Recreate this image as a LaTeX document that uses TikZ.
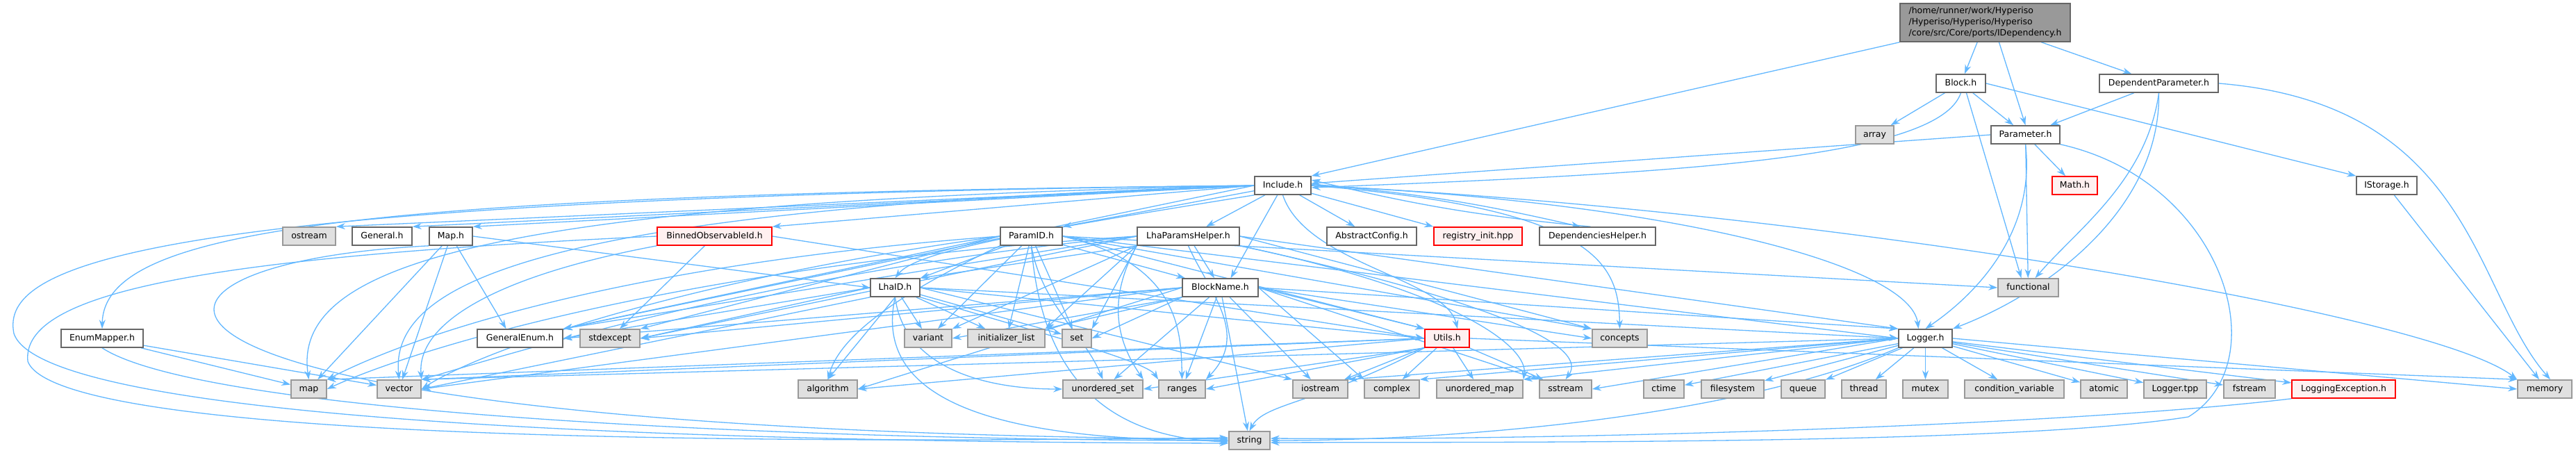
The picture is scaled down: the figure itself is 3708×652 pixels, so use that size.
\documentclass[tikz,border=0pt]{standalone}
\usepackage{fontspec}
\setmainfont{DejaVu Sans}
\usetikzlibrary{arrows.meta}
\definecolor{edgec}{HTML}{63B8FF}
\definecolor{gfill}{HTML}{E0E0E0}
\definecolor{gborder}{HTML}{999999}
\definecolor{wborder}{HTML}{666666}
\definecolor{rfill}{HTML}{FFF0F0}
\definecolor{topfill}{HTML}{999999}
\pgfdeclarelayer{bglayer}
\pgfdeclarelayer{edgelayer}
\pgfsetlayers{bglayer,edgelayer,main}
\begin{document}
\begin{tikzpicture}[x=1pt,y=-1pt,
  font=\fontsize{12.5}{15}\selectfont,
  nb/.style={line width=1.6pt, minimum height=26pt, inner sep=0pt, text height=9.2pt, text depth=2.8pt, anchor=center},
  gbox/.style={nb, fill=gfill, draw=gborder},
  wbox/.style={nb, fill=white, draw=wborder},
  rbox/.style={nb, fill=rfill, draw=red},
  topbox/.style={line width=1.6pt, fill=topfill, draw=wborder, align=left, inner sep=4pt, minimum width=245pt, minimum height=55pt, font=\fontsize{12.5}{16}\selectfont},
  e/.style={draw=edgec, line width=1.3pt, -{Stealth[length=13pt,width=9pt]}}]
\useasboundingbox (0,0) rectangle (3708,652);
\begin{pgfonlayer}{bglayer}
\fill[white] (0,0) rectangle (3708,652);
\end{pgfonlayer}

% nodes
\node[topbox] (top) at (2857.5,32.5) {/home/runner/work/Hyperiso\\/Hyperiso/Hyperiso/Hyperiso\\/core/src/Core/ports/IDependency.h};
\node[wbox, minimum width=71pt] (block) at (2822.5,120) {Block.h};
\node[wbox, minimum width=171pt] (dep) at (3107.5,120) {DependentParameter.h};
\node[gbox, minimum width=55pt] (arr) at (2698.5,194) {array};
\node[wbox, minimum width=99pt] (param) at (2915.5,194) {Parameter.h};
\node[wbox, minimum width=81pt] (inc) at (1846.5,267) {Include.h};
\node[rbox, minimum width=65pt] (math) at (2986.5,267) {Math.h};
\node[wbox, minimum width=87pt] (istor) at (3435.5,267) {IStorage.h};
\node[gbox, minimum width=76pt] (ostr) at (445,340) {ostream};
\node[wbox, minimum width=86pt] (gen) at (550,340) {General.h};
\node[wbox, minimum width=62pt] (maph) at (649,340) {Map.h};
\node[rbox, minimum width=165pt] (binned) at (1028.5,340) {BinnedObservableId.h};
\node[wbox, minimum width=89pt] (pid) at (1484.5,340) {ParamID.h};
\node[wbox, minimum width=147pt] (lph) at (1710.5,340) {LhaParamsHelper.h};
\node[wbox, minimum width=129pt] (absc) at (1974.5,340) {AbstractConfig.h};
\node[rbox, minimum width=127pt] (reg) at (2127.5,340) {registry\_init.hpp};
\node[wbox, minimum width=167pt] (dh) at (2299.5,340) {DependenciesHelper.h};
\node[wbox, minimum width=71pt] (lhaid) at (1288.5,414) {LhaID.h};
\node[wbox, minimum width=109pt] (bname) at (1756.5,414) {BlockName.h};
\node[gbox, minimum width=87pt] (func) at (2919.5,414) {functional};
\node[wbox, minimum width=118pt] (enm) at (147,487) {EnumMapper.h};
\node[wbox, minimum width=123pt] (genum) at (748.5,487) {GeneralEnum.h};
\node[gbox, minimum width=86pt] (stdex) at (878,487) {stdexcept};
\node[gbox, minimum width=68pt] (variant) at (1336,487) {variant};
\node[gbox, minimum width=111pt] (initl) at (1448.5,487) {initializer\_list};
\node[gbox, minimum width=42pt] (set) at (1550,487) {set};
\node[rbox, minimum width=64pt] (utils) at (2083,487) {Utils.h};
\node[gbox, minimum width=79pt] (conc) at (2331.5,487) {concepts};
\node[wbox, minimum width=77pt] (logger) at (2771.5,487) {Logger.h};
\node[gbox, minimum width=51pt] (map) at (444.5,560) {map};
\node[gbox, minimum width=63pt] (vec) at (574.5,560) {vector};
\node[gbox, minimum width=85pt] (algo) at (1191.5,560) {algorithm};
\node[gbox, minimum width=115pt] (uset) at (1587.5,560) {unordered\_set};
\node[gbox, minimum width=67pt] (ranges) at (1701.5,560) {ranges};
\node[gbox, minimum width=79pt] (iostr) at (1900.5,560) {iostream};
\node[gbox, minimum width=79pt] (cplx) at (2003.5,560) {complex};
\node[gbox, minimum width=124pt] (umap) at (2130,560) {unordered\_map};
\node[gbox, minimum width=75pt] (sstr) at (2253.5,560) {sstream};
\node[gbox, minimum width=58pt] (ctime) at (2395,560) {ctime};
\node[gbox, minimum width=90pt] (fsys) at (2494,560) {filesystem};
\node[gbox, minimum width=63pt] (queue) at (2595.5,560) {queue};
\node[gbox, minimum width=64pt] (thread) at (2683,560) {thread};
\node[gbox, minimum width=65pt] (mutex) at (2771.5,560) {mutex};
\node[gbox, minimum width=143pt] (condv) at (2899.5,560) {condition\_variable};
\node[gbox, minimum width=67pt] (atomic) at (3028.5,560) {atomic};
\node[gbox, minimum width=90pt] (ltpp) at (3131,560) {Logger.tpp};
\node[gbox, minimum width=74pt] (fstr) at (3238,560) {fstream};
\node[rbox, minimum width=149pt] (lexc) at (3373.5,560) {LoggingException.h};
\node[gbox, minimum width=78pt] (mem) at (3663,560) {memory};
\node[gbox, minimum width=59pt] (str) at (1798.5,634) {string};

\begin{pgfonlayer}{edgelayer}
% top
\draw[e] (top.south west) -- (inc.north east);
\draw[e] (top) -- (block);
\draw[e] ([xshift=20pt]top.south) -- (param.north);
\draw[e] (top) -- (dep);
% Block.h
\draw[e] (block) -- (arr);
\draw[e] (block) -- (param);
\draw[e] (block.south) .. controls (2790,230) and (2400,250) .. ([yshift=-3pt]inc.east);
\draw[e] ([xshift=8pt]block.south) -- ([xshift=-10pt]func.north);
\draw[e] (block.east) -- (istor.north west);
% DependentParameter.h
\draw[e] (dep) -- (param);
\draw[e] (dep.south) .. controls (3090,260) and (2990,330) .. ([xshift=10pt]func.north);
\draw[e] (dep.south) .. controls (3110,300) and (2950,420) .. (logger.north east);
\draw[e] (dep.east) .. controls (3560,150) and (3560,420) .. ([xshift=8pt]mem.north);
% Parameter.h
\draw[e] (param.west) -- ([yshift=3pt]inc.east);
\draw[e] (param) -- (math);
\draw[e] (param) -- (func);
\draw[e] (param.south) .. controls (2930,330) and (2850,420) .. (logger.north);
\draw[e] (param.south east) .. controls (3200,260) and (3280,520) .. (3150,600) .. controls (2900,640) and (2200,636) .. ([yshift=-3pt]str.east);
% IStorage.h
\draw[e] (istor) -- ([xshift=-8pt]mem.north);
% Include.h
\draw[e] (inc.west) -- (ostr.north east);
\draw[e] (inc.west) -- (gen.north east);
\draw[e] (inc.west) -- (maph.north east);
\draw[e] (inc.west) -- (binned.north east);
\draw[e] (inc.west) .. controls (500,280) and (150,330) .. (enm.north);
\draw[e] (inc) -- (pid.north east);
\draw[e] (inc) -- (lph);
\draw[e] (inc) -- (absc);
\draw[e] (inc) -- (reg.north west);
\draw[e] ([yshift=2pt]inc.east) to[bend left=4] ([xshift=-25pt]dh.north);
\draw[e] ([xshift=-10pt]dh.north) to[bend left=4] ([yshift=8pt]inc.east);
\draw[e] (inc.south west) .. controls (1500,330) and (1320,360) .. (lhaid.north);
\draw[e] (inc) -- ([xshift=15pt]bname.north);
\draw[e] (inc.south) .. controls (1880,380) and (2080,400) .. ([xshift=15pt]utils.north);
\draw[e] (inc.east) .. controls (2300,300) and (2330,380) .. (conc.north);
\draw[e] (inc.east) .. controls (2400,290) and (2750,380) .. ([xshift=-10pt]logger.north);
\draw[e] (inc.east) .. controls (2600,300) and (3500,450) .. (mem.north west);
\draw[e] (inc.west) -- (genum.north east);
\draw[e] (inc.west) .. controls (700,290) and (420,380) .. (map.north);
\draw[e] (inc.west) .. controls (800,300) and (560,400) .. (vec.north);
\draw[e] (inc.west) .. controls (200,285) and (0,380) .. (20,480) .. controls (60,600) and (900,636) .. ([yshift=-4pt]str.west);
% Map.h
\draw[e] (maph) -- ([xshift=-20pt]genum.north);
\draw[e] (maph.east) -- (lhaid.west);
\draw[e] (maph) -- (map);
\draw[e] (maph) -- (vec);
\draw[e] (maph.south west) .. controls (100,380) and (80,620) .. ([yshift=2pt]str.west);
% BinnedObservableId.h
\draw[e] (binned) -- (stdex);
\draw[e] (binned.west) .. controls (300,370) and (30,420) .. (40,520) .. controls (80,630) and (1000,640) .. ([yshift=4pt]str.west);
\draw[e] (binned.east) -- (utils.west);
\draw[e] (binned.south west) .. controls (700,400) and (600,470) .. (vec.north east);
% EnumMapper.h
\draw[e] (enm) -- (map);
\draw[e] (enm) -- (vec);
\draw[e] (enm.south) .. controls (300,600) and (1200,634) .. (str.west);
% ParamID.h
\draw[e] (pid) -- (lhaid);
\draw[e] (pid) -- (bname);
\draw[e] (pid.west) -- (genum.north east);
\draw[e] (pid.west) -- (stdex.north east);
\draw[e] (pid.west) .. controls (900,380) and (600,480) .. (map.north east);
\draw[e] (pid.west) .. controls (1000,400) and (700,500) .. (vec.east);
\draw[e] (pid.south west) .. controls (1300,420) and (1210,480) .. (algo.north);
\draw[e] (pid) -- (variant);
\draw[e] (pid) -- (initl);
\draw[e] (pid) -- (set);
\draw[e] (pid.south) .. controls (1500,440) and (1560,480) .. (uset.north);
\draw[e] (pid.east) .. controls (1700,380) and (1700,480) .. (ranges.north);
\draw[e] (pid.east) -- (utils.north west);
\draw[e] (pid.east) -- (conc.north west);
\draw[e] (pid.east) -- (logger.west);
\draw[e] (pid.east) -- (func.west);
\draw[e] (pid.south) .. controls (1500,550) and (1600,630) .. ([yshift=-2pt]str.west);
% LhaParamsHelper.h
\draw[e] (lph.south west) -- (lhaid.north east);
\draw[e] (lph) -- (bname);
\draw[e] (lph.west) -- (genum.north east);
\draw[e] (lph.west) -- (stdex.east);
\draw[e] (lph.west) .. controls (1000,380) and (600,500) .. (map.east);
\draw[e] (lph.west) .. controls (1100,390) and (700,520) .. (vec.north east);
\draw[e] (lph.south west) -- (variant.north east);
\draw[e] (lph.south west) -- (initl.north east);
\draw[e] (lph.south west) -- (set.north east);
\draw[e] (lph.south west) .. controls (1600,420) and (1600,480) .. (uset.north east);
\draw[e] (lph.south) .. controls (1740,420) and (1800,480) .. (ranges.north east);
\draw[e] (lph.east) -- (conc.north west);
\draw[e] (lph.east) -- (logger.north west);
\draw[e] (lph.south east) .. controls (2100,420) and (2200,500) .. (umap.north east);
\draw[e] (lph.south east) .. controls (2000,400) and (2300,480) .. (sstr.north);
% LhaID.h
\draw[e] (lhaid.west) -- (genum.east);
\draw[e] (lhaid.west) -- (stdex.east);
\draw[e] (lhaid.south west) -- (vec.east);
\draw[e] (lhaid.south) -- (algo.north);
\draw[e] (lhaid) -- (variant);
\draw[e] (lhaid) -- (initl);
\draw[e] (lhaid) -- (set);
\draw[e] (lhaid.south) .. controls (1300,520) and (1400,560) .. (uset.west);
\draw[e] (lhaid.south east) .. controls (1500,480) and (1650,520) .. (ranges.north west);
\draw[e] (lhaid.east) -- (iostr.north west);
\draw[e] (lhaid.east) -- (utils.west);
\draw[e] (lhaid.east) -- (logger.west);
\draw[e] (lhaid.south) .. controls (1250,600) and (1500,634) .. (str.west);
% BlockName.h
\draw[e] (bname.west) -- (genum.east);
\draw[e] (bname.west) -- (stdex.east);
\draw[e] (bname.west) -- (vec.east);
\draw[e] (bname.west) -- (algo.east);
\draw[e] (bname.south west) -- (variant.east);
\draw[e] (bname.south west) -- (initl.north east);
\draw[e] (bname.south west) -- (set.east);
\draw[e] (bname) -- (uset);
\draw[e] (bname) -- (ranges);
\draw[e] (bname) -- (iostr);
\draw[e] (bname.east) -- (cplx.north west);
\draw[e] (bname.east) -- (sstr.north west);
\draw[e] (bname.east) -- (utils.north west);
\draw[e] (bname.east) -- (conc.west);
\draw[e] (bname.east) -- (logger.north west);
\draw[e] (bname) -- (str);
% Utils.h
\draw[e] (utils) -- (iostr);
\draw[e] (utils) -- (cplx);
\draw[e] (utils) -- (umap);
\draw[e] (utils) -- (sstr);
\draw[e] (utils.south west) .. controls (1900,580) and (1820,580) .. (str.north);
\draw[e] (utils.west) -- (vec.north east);
\draw[e] (utils.west) -- (map.north east);
\draw[e] (utils.west) -- (algo.east);
\draw[e] (utils.south west) -- (uset.east);
\draw[e] (utils.south west) -- (ranges.east);
\draw[e] (utils.east) -- (mem.north west);
% Logger.h
\foreach \t in {ctime,fsys,queue,thread,mutex,condv,atomic,ltpp,fstr,lexc} \draw[e] (logger) -- (\t);
\draw[e] (logger.east) -- (mem.west);
\draw[e] (logger.west) -- (iostr.north east);
\draw[e] (logger.west) -- (sstr.east);
\draw[e] (logger.west) -- (umap.north east);
\draw[e] (logger.west) -- (cplx.north east);
\draw[e] (logger.west) -- (vec.north east);
\draw[e] (logger.south west) .. controls (2500,600) and (2100,634) .. (str.east);
% LoggingException.h
\draw[e] (lexc.south west) .. controls (3000,610) and (2300,634) .. ([yshift=3pt]str.east);
\end{pgfonlayer}
\end{tikzpicture}
\end{document}
